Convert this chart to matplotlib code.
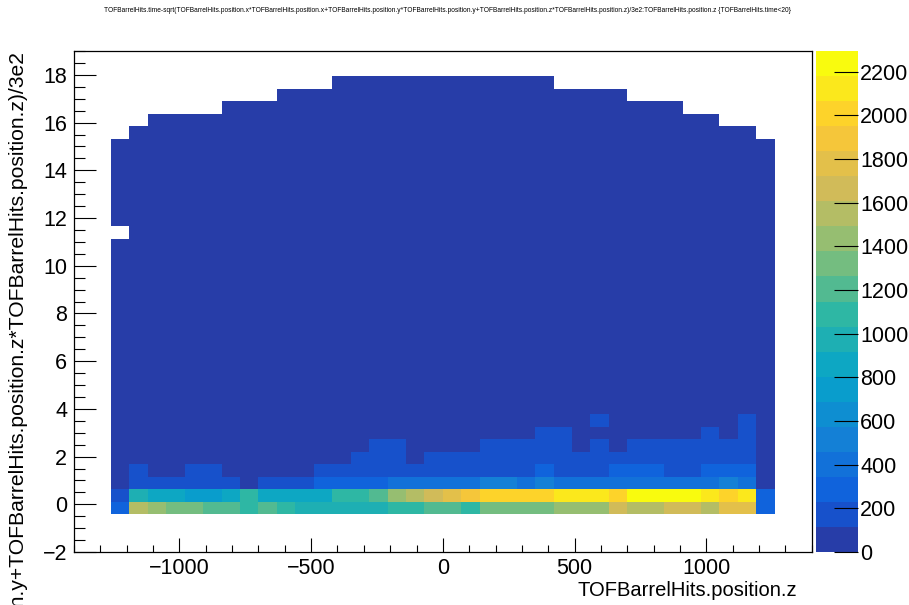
import numpy as np
import matplotlib
matplotlib.use("Agg")
import matplotlib.pyplot as plt
from matplotlib.colors import ListedColormap, BoundaryNorm
from matplotlib.ticker import MultipleLocator

plt.rcParams['font.family'] = ['Liberation Sans', 'DejaVu Sans']

title = ("TOFBarrelHits.time-sqrt(TOFBarrelHits.position.x*TOFBarrelHits.position.x"
         "+TOFBarrelHits.position.y*TOFBarrelHits.position.y"
         "+TOFBarrelHits.position.z*TOFBarrelHits.position.z)/3e2:TOFBarrelHits.position.z "
         "{TOFBarrelHits.time<20}")
y_title = ("TOFBarrelHits.time-sqrt(TOFBarrelHits.position.x*TOFBarrelHits.position.x"
           "+TOFBarrelHits.position.y*TOFBarrelHits.position.y"
           "+TOFBarrelHits.position.z*TOFBarrelHits.position.z)/3e2")
x_title = "TOFBarrelHits.position.z"

# 40 x 40 histogram binning
n_bins = 40
x_range = (-1400, 1400)
y_range = (-2, 19)

# filled z bins run from bin 2 to bin 37 (z = -1260 ... 1260)
first_x_bin = 2

# counts in the lowest filled y bins, one value per filled z bin
counts_ybin03 = [290, 1550, 1430, 1320, 1320, 1200, 1200, 1090, 1200, 1090,
                 980, 980, 980, 980, 980, 1090, 1090, 1200, 1200, 1090,
                 1320, 1320, 1320, 1320, 1430, 1430, 1430, 1660, 1550, 1550,
                 1660, 1660, 1550, 1780, 1780, 290]
counts_ybin04 = [170, 980, 860, 860, 750, 750, 860, 1090, 860, 860,
                 860, 860, 1090, 1090, 1200, 1430, 1550, 1660, 1780, 1890,
                 2010, 2010, 2010, 2010, 2120, 2120, 2120, 2010, 2240, 2295,
                 2240, 2240, 2120, 2010, 2120, 290]
counts_ybin05 = [80, 170, 170, 170, 170, 170, 170, 80, 170, 170,
                 170, 290, 290, 290, 290, 400, 400, 400, 400, 400,
                 520, 520, 400, 520, 400, 400, 400, 400, 400, 400,
                 400, 400, 400, 520, 400, 80]
counts_ybin06 = [80, 170, 80, 80, 170, 170, 80, 80, 80, 80,
                 80, 170, 170, 170, 170, 170, 170, 170, 170, 170,
                 170, 170, 170, 290, 170, 170, 170, 290, 290, 290,
                 170, 170, 290, 290, 290, 80]
counts_ybin07 = [80, 80, 80, 80, 80, 80, 80, 80, 80, 80,
                 80, 80, 80, 170, 170, 170, 80, 170, 170, 170,
                 170, 170, 170, 170, 170, 170, 170, 170, 170, 170,
                 170, 170, 170, 170, 170, 80]
counts_ybin08 = [70, 70, 70, 70, 70, 70, 70, 70, 70, 70,
                 70, 70, 70, 70, 170, 170, 70, 70, 70, 70,
                 170, 170, 170, 170, 170, 70, 170, 70, 170, 170,
                 170, 170, 170, 170, 170, 70]
counts_ybin09 = [60, 60, 60, 60, 60, 60, 60, 60, 60, 60,
                 60, 60, 60, 60, 60, 60, 60, 60, 60, 60,
                 60, 60, 60, 170, 170, 60, 60, 60, 60, 60,
                 60, 60, 170, 60, 170, 60]
counts_ybin10 = [55, 55, 55, 55, 55, 55, 55, 55, 55, 55,
                 55, 55, 55, 55, 55, 55, 55, 55, 55, 55,
                 55, 55, 55, 55, 55, 55, 170, 55, 55, 55,
                 55, 55, 55, 55, 170, 55]
low_rows = {3: counts_ybin03, 4: counts_ybin04, 5: counts_ybin05, 6: counts_ybin06,
            7: counts_ybin07, 8: counts_ybin08, 9: counts_ybin09, 10: counts_ybin10}

# above y bin 10 every filled cell holds a small count, up to the highest filled y bin
upper_count = 45
top_ybin = [32, 33, 34, 34, 34, 34, 35, 35, 35, 36,
            36, 36, 37, 37, 37, 37, 37, 37, 37, 37,
            37, 37, 37, 37, 36, 36, 36, 36, 35, 35,
            35, 34, 34, 33, 33, 32]
empty_cells = [(2, 25)]  # (z bin, y bin) with no entries

# kBird palette, 20 contour levels
stops = [0.0000, 0.1250, 0.2500, 0.3750, 0.5000, 0.6250, 0.7500, 0.8750, 1.0000]
red = [0.2082, 0.0592, 0.0780, 0.0232, 0.1802, 0.5301, 0.8186, 0.9956, 0.9764]
green = [0.1664, 0.3599, 0.5041, 0.6419, 0.7178, 0.7492, 0.7328, 0.7862, 0.9832]
blue = [0.5293, 0.8684, 0.8385, 0.7914, 0.6425, 0.4662, 0.3499, 0.1968, 0.0539]
n_contours = 20

# ---- build histogram ----
z = np.zeros((n_bins, n_bins))
for j, top in enumerate(top_ybin):
    z[11:top + 1, first_x_bin + j] = upper_count
for k, row in low_rows.items():
    z[k, first_x_bin:first_x_bin + len(row)] = row
for xb, yb in empty_cells:
    z[yb, xb] = 0
zm = np.ma.masked_equal(z, 0)

x_edges = np.linspace(*x_range, n_bins + 1)
y_edges = np.linspace(*y_range, n_bins + 1)

t = np.linspace(0, 1, 255)
grad = np.column_stack([np.interp(t, stops, c) for c in (red, green, blue)])
idx = [int((i + 0.99) * 255 / n_contours) for i in range(n_contours)]
cmap = ListedColormap(grad[idx])
z_max = z.max()
norm = BoundaryNorm(np.linspace(0, z_max, n_contours + 1), n_contours)

W, H = 909, 605
fig = plt.figure(figsize=(W / 100, H / 100), dpi=100)
ax = fig.add_axes([74 / W, 1 - 552 / H, (811.7 - 74) / W, (552 - 51) / H])
mesh = ax.pcolormesh(x_edges, y_edges, zm, cmap=cmap, norm=norm,
                     shading='flat', antialiased=False, edgecolors='none')
ax.set_xlim(*x_range)
ax.set_ylim(*y_range)

ax.xaxis.set_major_locator(MultipleLocator(500))
ax.xaxis.set_minor_locator(MultipleLocator(100))
ax.yaxis.set_major_locator(MultipleLocator(2))
ax.yaxis.set_minor_locator(MultipleLocator(0.5))
ax.tick_params(axis='x', which='major', direction='in', length=10, width=0.8,
               labelsize=15.5, pad=4, top=False)
ax.tick_params(axis='x', which='minor', direction='in', length=5, width=0.8, top=False)
ax.tick_params(axis='y', which='major', direction='in', length=16, width=0.8,
               labelsize=15.5, pad=5, right=False)
ax.tick_params(axis='y', which='minor', direction='in', length=8, width=0.8, right=False)
for s in ax.spines.values():
    s.set_linewidth(0.9)
    s.set_color('black')

cax = fig.add_axes([816 / W, 1 - 552 / H, 42 / W, (552 - 51) / H])
cb = fig.colorbar(mesh, cax=cax, ticks=np.arange(0, 2201, 200))
cb.outline.set_visible(False)
cb.minorticks_off()
cax.tick_params(direction='in', length=17, width=0.8, labelsize=15.5, pad=1.5)

fig.text(447 / W, 1 - 11 / H, title, ha='center', va='center', fontsize=4.8)
# the y title is longer than the axis and runs off the bottom edge, as drawn by ROOT
fig.text(18 / W, 1 - 51 / H, y_title, rotation=90, ha='center', va='top', fontsize=15.2)
fig.text(797 / W, 1 - 590 / H, x_title, ha='right', va='center', fontsize=14.5)

fig.savefig("out.png", dpi=100)
